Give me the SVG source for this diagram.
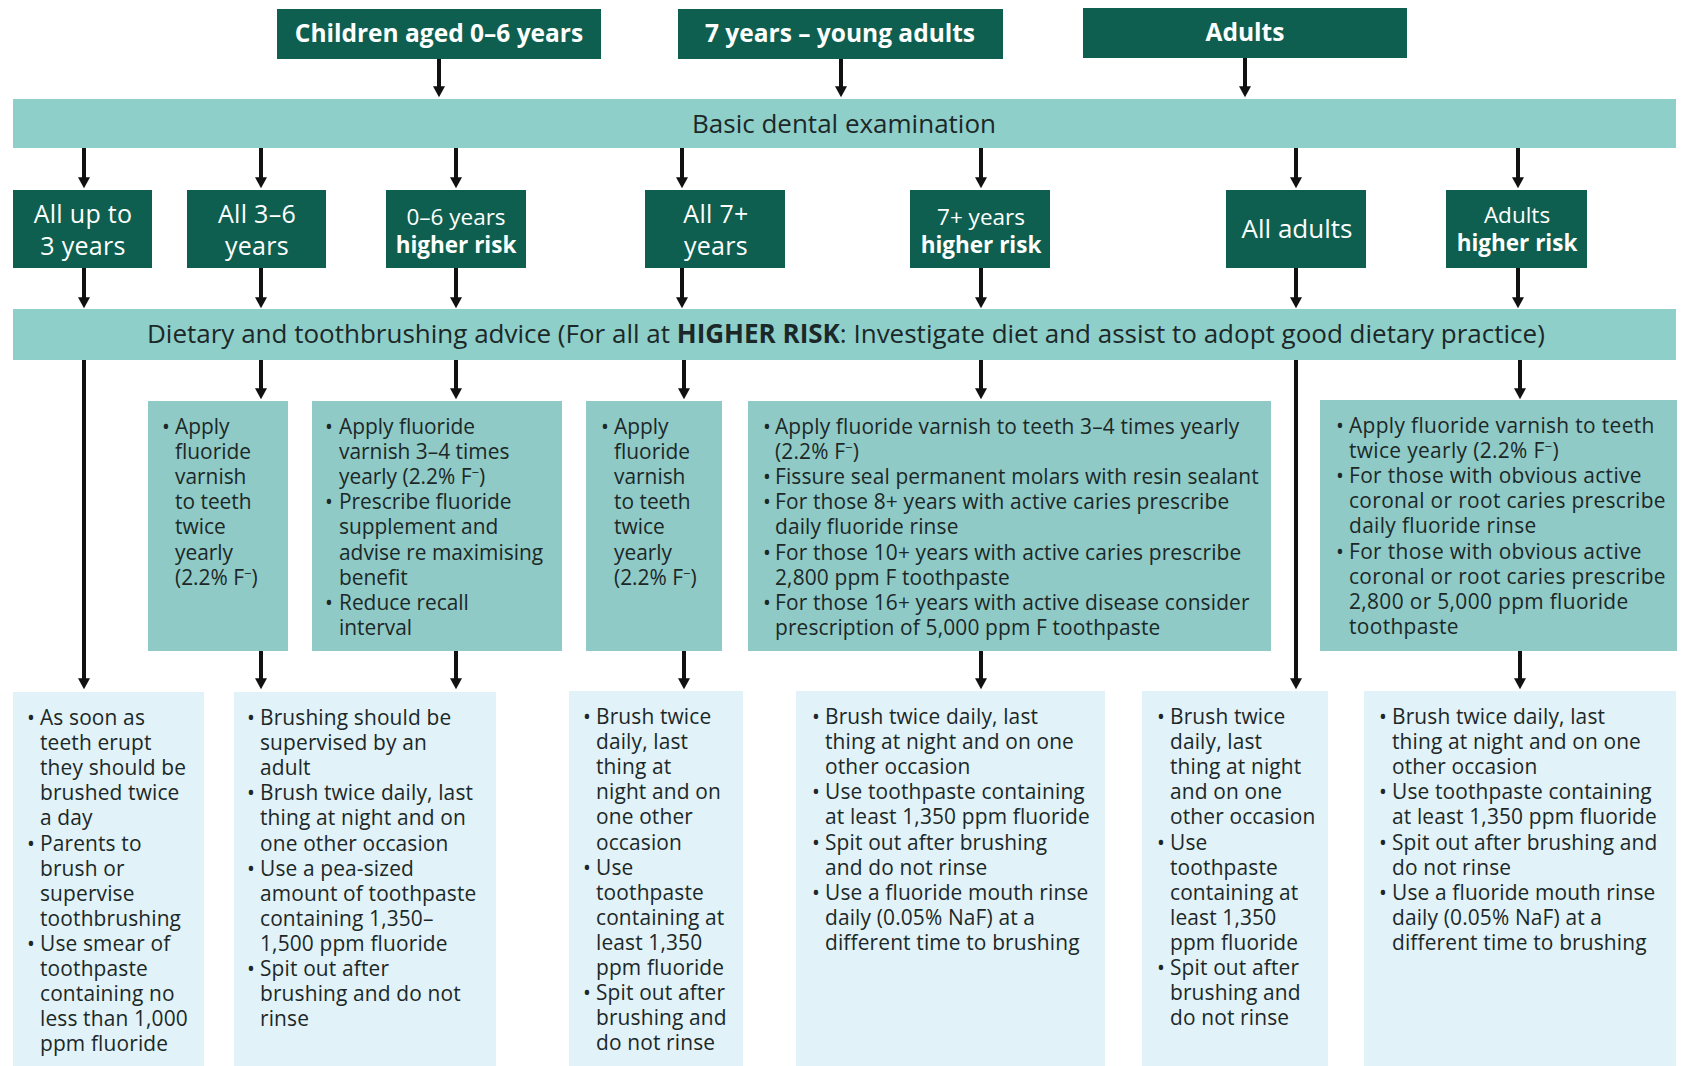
<svg xmlns="http://www.w3.org/2000/svg" width="1683" height="1066" viewBox="0 0 1683 1066">
<style>
.dark{fill:#0e5f50}
.band{fill:#8ecfca}
.mid{fill:#8fcac6}
.light{fill:#e1f2f8}
.wt{fill:#ffffff;font-family:"Open Sans","Noto Sans",sans-serif}
.bt{fill:#1c2828;font-family:"Open Sans","Noto Sans",sans-serif}
.b{font-weight:bold}
.arr{stroke:#111;stroke-width:4;fill:none;marker-end:url(#ah)}
.r3{font-size:20.9px}
.r3d{font-size:20.9px;letter-spacing:0.15px}
.r3e{font-size:20.9px;letter-spacing:0.35px}
.r4{font-size:20.9px;letter-spacing:0.15px}
.sup{font-size:13px}
</style>
<defs>
<marker id="ah" markerUnits="userSpaceOnUse" markerWidth="13" markerHeight="12" viewBox="0 0 12 13" refX="2" refY="6.5" orient="auto">
<path d="M0,0 L12,6.5 L0,13 z" fill="#111"/>
</marker>
</defs>
<rect width="1683" height="1066" fill="#ffffff"/>

<g id="connectors">
<line class="arr" x1="439" y1="59" x2="439" y2="88"/>
<line class="arr" x1="841" y1="59" x2="841" y2="88"/>
<line class="arr" x1="1245" y1="58" x2="1245" y2="88"/>
<line class="arr" x1="84" y1="148" x2="84" y2="179"/>
<line class="arr" x1="261" y1="148" x2="261" y2="179"/>
<line class="arr" x1="456" y1="148" x2="456" y2="179"/>
<line class="arr" x1="682" y1="148" x2="682" y2="179"/>
<line class="arr" x1="981" y1="148" x2="981" y2="179"/>
<line class="arr" x1="1296" y1="148" x2="1296" y2="179"/>
<line class="arr" x1="1518" y1="148" x2="1518" y2="179"/>
<line class="arr" x1="84" y1="268" x2="84" y2="299"/>
<line class="arr" x1="261" y1="268" x2="261" y2="299"/>
<line class="arr" x1="456" y1="268" x2="456" y2="299"/>
<line class="arr" x1="682" y1="268" x2="682" y2="299"/>
<line class="arr" x1="981" y1="268" x2="981" y2="299"/>
<line class="arr" x1="1296" y1="268" x2="1296" y2="299"/>
<line class="arr" x1="1518" y1="268" x2="1518" y2="299"/>
<line class="arr" x1="84" y1="360" x2="84" y2="680"/>
<line class="arr" x1="261" y1="360" x2="261" y2="390"/>
<line class="arr" x1="456" y1="360" x2="456" y2="390"/>
<line class="arr" x1="684" y1="360" x2="684" y2="390"/>
<line class="arr" x1="981" y1="360" x2="981" y2="390"/>
<line class="arr" x1="1296" y1="360" x2="1296" y2="680"/>
<line class="arr" x1="1520" y1="360" x2="1520" y2="390"/>
<line class="arr" x1="261" y1="651" x2="261" y2="680"/>
<line class="arr" x1="456" y1="651" x2="456" y2="680"/>
<line class="arr" x1="684" y1="651" x2="684" y2="680"/>
<line class="arr" x1="981" y1="651" x2="981" y2="680"/>
<line class="arr" x1="1520" y1="651" x2="1520" y2="680"/>
</g>

<g id="n-children">
<rect class="dark" x="277" y="9" width="324" height="50"/>
<text class="wt b" x="439" y="42" font-size="24.5" text-anchor="middle">Children aged 0–6 years</text>
</g>
<g id="n-young">
<rect class="dark" x="678" y="9" width="325" height="50"/>
<text class="wt b" x="840" y="42" font-size="24.5" text-anchor="middle">7 years – young adults</text>
</g>
<g id="n-adults">
<rect class="dark" x="1083" y="8" width="324" height="50"/>
<text class="wt b" x="1245" y="41" font-size="24.5" text-anchor="middle">Adults</text>
</g>

<g id="n-basic">
<rect class="band" x="13" y="99" width="1663" height="49"/>
<text class="bt" x="844" y="133" font-size="26" text-anchor="middle">Basic dental examination</text>
</g>

<g id="n-upto3">
<rect class="dark" x="13" y="190" width="139" height="78"/>
<text class="wt" font-size="25" letter-spacing="0.3" text-anchor="middle"><tspan x="83" y="223">All up to</tspan><tspan x="83" y="254.5">3 years</tspan></text>
</g>
<g id="n-all36">
<rect class="dark" x="187" y="190" width="139" height="78"/>
<text class="wt" font-size="25" letter-spacing="0.3" text-anchor="middle"><tspan x="257" y="223">All 3–6</tspan><tspan x="257" y="254.5">years</tspan></text>
</g>
<g id="n-06risk">
<rect class="dark" x="386" y="190" width="140" height="78"/>
<text class="wt" font-size="22.5" text-anchor="middle"><tspan x="456" y="225">0–6 years</tspan><tspan class="b" x="456" y="253">higher risk</tspan></text>
</g>
<g id="n-all7">
<rect class="dark" x="645" y="190" width="140" height="78"/>
<text class="wt" font-size="25" letter-spacing="0.3" text-anchor="middle"><tspan x="716" y="223">All 7+</tspan><tspan x="716" y="254.5">years</tspan></text>
</g>
<g id="n-7risk">
<rect class="dark" x="910" y="190" width="140" height="78"/>
<text class="wt" font-size="22.5" text-anchor="middle"><tspan x="981" y="225">7+ years</tspan><tspan class="b" x="981" y="253">higher risk</tspan></text>
</g>
<g id="n-alladults">
<rect class="dark" x="1226" y="190" width="140" height="78"/>
<text class="wt" font-size="26" text-anchor="middle" x="1297" y="238">All adults</text>
</g>
<g id="n-adultsrisk">
<rect class="dark" x="1446" y="190" width="141" height="78"/>
<text class="wt" font-size="22.5" text-anchor="middle"><tspan x="1517" y="223">Adults</tspan><tspan class="b" x="1517" y="251">higher risk</tspan></text>
</g>

<g id="n-dietary">
<rect class="band" x="13" y="309" width="1663" height="51"/>
<text class="bt" x="147" y="343" font-size="26">Dietary and toothbrushing advice (For all at <tspan class="b">HIGHER RISK</tspan>: Investigate diet and assist to adopt good dietary practice)</text>
</g>

<g id="n-r3a">
<rect class="mid" x="148" y="401" width="140" height="250"/>
<text class="bt r3"><tspan x="162" y="434">•</tspan><tspan x="175" y="434">Apply</tspan><tspan x="175" dy="25.1">fluoride</tspan><tspan x="175" dy="25.1">varnish</tspan><tspan x="175" dy="25.1">to teeth</tspan><tspan x="175" dy="25.1">twice</tspan><tspan x="175" dy="25.1">yearly</tspan><tspan x="175" dy="25.1">(2.2% F<tspan class="sup" dy="-7">−</tspan><tspan dy="7">)</tspan></tspan></text>
</g>
<g id="n-r3b">
<rect class="mid" x="312" y="401" width="250" height="250"/>
<text class="bt r3"><tspan x="325" y="434">•</tspan><tspan x="339" y="434">Apply fluoride</tspan><tspan x="339" dy="25.1">varnish 3–4 times</tspan><tspan x="339" dy="25.1">yearly (2.2% F<tspan class="sup" dy="-7">−</tspan><tspan dy="7">)</tspan></tspan><tspan x="325" dy="25.1">•</tspan><tspan x="339">Prescribe fluoride</tspan><tspan x="339" dy="25.1">supplement and</tspan><tspan x="339" dy="25.1">advise re maximising</tspan><tspan x="339" dy="25.1">benefit</tspan><tspan x="325" dy="25.1">•</tspan><tspan x="339">Reduce recall</tspan><tspan x="339" dy="25.1">interval</tspan></text>
</g>
<g id="n-r3c">
<rect class="mid" x="586" y="401" width="136" height="250"/>
<text class="bt r3"><tspan x="601" y="434">•</tspan><tspan x="614" y="434">Apply</tspan><tspan x="614" dy="25.1">fluoride</tspan><tspan x="614" dy="25.1">varnish</tspan><tspan x="614" dy="25.1">to teeth</tspan><tspan x="614" dy="25.1">twice</tspan><tspan x="614" dy="25.1">yearly</tspan><tspan x="614" dy="25.1">(2.2% F<tspan class="sup" dy="-7">−</tspan><tspan dy="7">)</tspan></tspan></text>
</g>
<g id="n-r3d">
<rect class="mid" x="748" y="401" width="523" height="250"/>
<text class="bt r3d"><tspan x="763" y="434">•</tspan><tspan x="775" y="434">Apply fluoride varnish to teeth 3–4 times yearly</tspan><tspan x="775" dy="25.1">(2.2% F<tspan class="sup" dy="-7">−</tspan><tspan dy="7">)</tspan></tspan><tspan x="763" dy="25.1">•</tspan><tspan x="775">Fissure seal permanent molars with resin sealant</tspan><tspan x="763" dy="25.1">•</tspan><tspan x="775">For those 8+ years with active caries prescribe</tspan><tspan x="775" dy="25.1">daily fluoride rinse</tspan><tspan x="763" dy="25.1">•</tspan><tspan x="775">For those 10+ years with active caries prescribe</tspan><tspan x="775" dy="25.1">2,800 ppm F toothpaste</tspan><tspan x="763" dy="25.1">•</tspan><tspan x="775">For those 16+ years with active disease consider</tspan><tspan x="775" dy="25.1">prescription of 5,000 ppm F toothpaste</tspan></text>
</g>
<g id="n-r3e">
<rect class="mid" x="1320" y="400" width="357" height="251"/>
<text class="bt r3e"><tspan x="1336" y="433">•</tspan><tspan x="1349" y="433">Apply fluoride varnish to teeth</tspan><tspan x="1349" dy="25.1">twice yearly (2.2% F<tspan class="sup" dy="-7">−</tspan><tspan dy="7">)</tspan></tspan><tspan x="1336" dy="25.1">•</tspan><tspan x="1349">For those with obvious active</tspan><tspan x="1349" dy="25.1">coronal or root caries prescribe</tspan><tspan x="1349" dy="25.1">daily fluoride rinse</tspan><tspan x="1336" dy="25.1">•</tspan><tspan x="1349">For those with obvious active</tspan><tspan x="1349" dy="25.1">coronal or root caries prescribe</tspan><tspan x="1349" dy="25.1">2,800 or 5,000 ppm fluoride</tspan><tspan x="1349" dy="25.1">toothpaste</tspan></text>
</g>

<g id="n-r4a">
<rect class="light" x="13" y="692" width="191" height="374"/>
<text class="bt r4"><tspan x="27" y="725">•</tspan><tspan x="40" y="725">As soon as</tspan><tspan x="40" dy="25.1">teeth erupt</tspan><tspan x="40" dy="25.1">they should be</tspan><tspan x="40" dy="25.1">brushed twice</tspan><tspan x="40" dy="25.1">a day</tspan><tspan x="27" dy="25.1">•</tspan><tspan x="40">Parents to</tspan><tspan x="40" dy="25.1">brush or</tspan><tspan x="40" dy="25.1">supervise</tspan><tspan x="40" dy="25.1">toothbrushing</tspan><tspan x="27" dy="25.1">•</tspan><tspan x="40">Use smear of</tspan><tspan x="40" dy="25.1">toothpaste</tspan><tspan x="40" dy="25.1">containing no</tspan><tspan x="40" dy="25.1">less than 1,000</tspan><tspan x="40" dy="25.1">ppm fluoride</tspan></text>
</g>
<g id="n-r4b">
<rect class="light" x="234" y="692" width="262" height="374"/>
<text class="bt r4"><tspan x="247" y="725">•</tspan><tspan x="260" y="725">Brushing should be</tspan><tspan x="260" dy="25.1">supervised by an</tspan><tspan x="260" dy="25.1">adult</tspan><tspan x="247" dy="25.1">•</tspan><tspan x="260">Brush twice daily, last</tspan><tspan x="260" dy="25.1">thing at night and on</tspan><tspan x="260" dy="25.1">one other occasion</tspan><tspan x="247" dy="25.1">•</tspan><tspan x="260">Use a pea-sized</tspan><tspan x="260" dy="25.1">amount of toothpaste</tspan><tspan x="260" dy="25.1">containing 1,350–</tspan><tspan x="260" dy="25.1">1,500 ppm fluoride</tspan><tspan x="247" dy="25.1">•</tspan><tspan x="260">Spit out after</tspan><tspan x="260" dy="25.1">brushing and do not</tspan><tspan x="260" dy="25.1">rinse</tspan></text>
</g>
<g id="n-r4c">
<rect class="light" x="569" y="691" width="174" height="375"/>
<text class="bt r4"><tspan x="583" y="724">•</tspan><tspan x="596" y="724">Brush twice</tspan><tspan x="596" dy="25.1">daily, last</tspan><tspan x="596" dy="25.1">thing at</tspan><tspan x="596" dy="25.1">night and on</tspan><tspan x="596" dy="25.1">one other</tspan><tspan x="596" dy="25.1">occasion</tspan><tspan x="583" dy="25.1">•</tspan><tspan x="596">Use</tspan><tspan x="596" dy="25.1">toothpaste</tspan><tspan x="596" dy="25.1">containing at</tspan><tspan x="596" dy="25.1">least 1,350</tspan><tspan x="596" dy="25.1">ppm fluoride</tspan><tspan x="583" dy="25.1">•</tspan><tspan x="596">Spit out after</tspan><tspan x="596" dy="25.1">brushing and</tspan><tspan x="596" dy="25.1">do not rinse</tspan></text>
</g>
<g id="n-r4d">
<rect class="light" x="796" y="691" width="309" height="375"/>
<text class="bt r4"><tspan x="812" y="724">•</tspan><tspan x="825" y="724">Brush twice daily, last</tspan><tspan x="825" dy="25.1">thing at night and on one</tspan><tspan x="825" dy="25.1">other occasion</tspan><tspan x="812" dy="25.1">•</tspan><tspan x="825">Use toothpaste containing</tspan><tspan x="825" dy="25.1">at least 1,350 ppm fluoride</tspan><tspan x="812" dy="25.1">•</tspan><tspan x="825">Spit out after brushing</tspan><tspan x="825" dy="25.1">and do not rinse</tspan><tspan x="812" dy="25.1">•</tspan><tspan x="825">Use a fluoride mouth rinse</tspan><tspan x="825" dy="25.1">daily (0.05% NaF) at a</tspan><tspan x="825" dy="25.1">different time to brushing</tspan></text>
</g>
<g id="n-r4e">
<rect class="light" x="1142" y="691" width="186" height="375"/>
<text class="bt r4"><tspan x="1157" y="724">•</tspan><tspan x="1170" y="724">Brush twice</tspan><tspan x="1170" dy="25.1">daily, last</tspan><tspan x="1170" dy="25.1">thing at night</tspan><tspan x="1170" dy="25.1">and on one</tspan><tspan x="1170" dy="25.1">other occasion</tspan><tspan x="1157" dy="25.1">•</tspan><tspan x="1170">Use</tspan><tspan x="1170" dy="25.1">toothpaste</tspan><tspan x="1170" dy="25.1">containing at</tspan><tspan x="1170" dy="25.1">least 1,350</tspan><tspan x="1170" dy="25.1">ppm fluoride</tspan><tspan x="1157" dy="25.1">•</tspan><tspan x="1170">Spit out after</tspan><tspan x="1170" dy="25.1">brushing and</tspan><tspan x="1170" dy="25.1">do not rinse</tspan></text>
</g>
<g id="n-r4f">
<rect class="light" x="1364" y="691" width="312" height="375"/>
<text class="bt r4"><tspan x="1379" y="724">•</tspan><tspan x="1392" y="724">Brush twice daily, last</tspan><tspan x="1392" dy="25.1">thing at night and on one</tspan><tspan x="1392" dy="25.1">other occasion</tspan><tspan x="1379" dy="25.1">•</tspan><tspan x="1392">Use toothpaste containing</tspan><tspan x="1392" dy="25.1">at least 1,350 ppm fluoride</tspan><tspan x="1379" dy="25.1">•</tspan><tspan x="1392">Spit out after brushing and</tspan><tspan x="1392" dy="25.1">do not rinse</tspan><tspan x="1379" dy="25.1">•</tspan><tspan x="1392">Use a fluoride mouth rinse</tspan><tspan x="1392" dy="25.1">daily (0.05% NaF) at a</tspan><tspan x="1392" dy="25.1">different time to brushing</tspan></text>
</g>
</svg>
